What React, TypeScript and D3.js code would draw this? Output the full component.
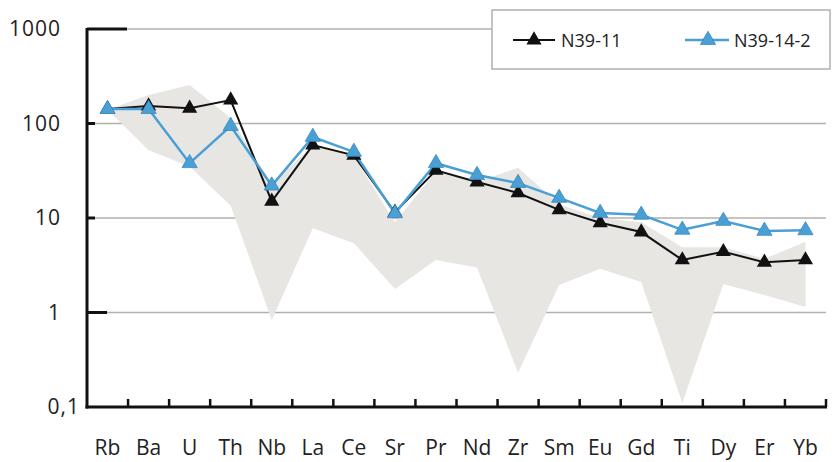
import React from "react";
import * as d3 from "d3";

const categories = ["Rb","Ba","U","Th","Nb","La","Ce","Sr","Pr","Nd","Zr","Sm","Eu","Gd","Ti","Dy","Er","Yb"];
const seriesN39_11 = [142,153,145,177,15,59,46,11.5,32,24,18.4,12.2,8.9,7.1,3.6,4.4,3.4,3.6];
const seriesN39_14_2 = [142,142,38,94,22,72,50,11.2,38,28.5,23.4,16.3,11.3,10.8,7.5,9.3,7.3,7.4];
const rangeUpper = [140,200,255,114,23,58,45,9,31,24,34,14,10,9,4.9,4.9,3.7,5.6];
const rangeLower = [140,52,35,13.5,0.83,7.8,5.4,1.77,3.6,3.0,0.23,1.95,2.9,2.1,0.11,2.0,1.53,1.14];
const yTicks = [1000,100,10,1,0.1];
const yTickLabels = ["1000","100","10","1","0,1"];
const seriesNames = ["N39-11","N39-14-2"];

const W = 834, H = 462;
const X0 = 87, X1 = 826, Y0 = 407, Y1 = 29;

export default function App() {
  const x = d3.scaleBand<string>().domain(categories).range([X0, X1]).padding(0);
  const cx = (c: string) => (x(c) as number) + x.bandwidth() / 2;
  const y = d3.scaleLog().domain([0.1, 1000]).range([Y0, Y1]);

  const area = d3.area<number>()
    .x((_, i) => cx(categories[i]))
    .y0((_, i) => y(rangeLower[i]))
    .y1((d) => y(d));

  const line = d3.line<number>()
    .x((_, i) => cx(categories[i]))
    .y((d) => y(d));

  const tri = d3.symbol().type(d3.symbolTriangle).size(100)() as string;

  const blue = "#4a9fd4";
  const blueStroke = "#3889bf";
  const black = "#111";
  const font = "'Open Sans', sans-serif";
  const tickLen: Record<string, number> = { "1000": 40, "100": 8, "10": 8, "1": 20 };

  return (
    <svg width={W} height={H} style={{ position: "absolute", left: 0, top: 0, background: "#fff" }}>
      {yTicks.filter((t) => t > 0.1).map((t) => (
        <line key={t} x1={X0} x2={X1} y1={y(t)} y2={y(t)} stroke="#b3b1ae" strokeWidth={1.5} />
      ))}
      <path d={area(rangeUpper) as string} fill="#e8e6e3" />
      <path d={line(seriesN39_11) as string} fill="none" stroke={black} strokeWidth={2} />
      <path d={line(seriesN39_14_2) as string} fill="none" stroke={blue} strokeWidth={2.5} />
      {seriesN39_11.map((v, i) => (
        <path key={"a" + i} d={tri} transform={`translate(${cx(categories[i])},${y(v)})`} fill={black} />
      ))}
      {seriesN39_14_2.map((v, i) => (
        <path key={"b" + i} d={tri} transform={`translate(${cx(categories[i])},${y(v)})`} fill={blue} stroke={blueStroke} strokeWidth={0.8} />
      ))}
      <line x1={X0} x2={X0} y1={Y1 - 1} y2={Y0 + 1.5} stroke="#111" strokeWidth={3} />
      <line x1={X0 - 1.5} x2={X1 + 1} y1={Y0} y2={Y0} stroke="#111" strokeWidth={3} />
      {yTicks.filter((t) => t > 0.1).map((t) => (
        <line key={"yt" + t} x1={X0} x2={X0 + tickLen[String(t)]} y1={y(t)} y2={y(t)} stroke="#111" strokeWidth={3} />
      ))}
      {categories.map((c) => (
        <line key={"xt" + c} x1={(x(c) as number) + x.bandwidth()} x2={(x(c) as number) + x.bandwidth()} y1={Y0} y2={Y0 - 8} stroke="#111" strokeWidth={2.5} />
      ))}
      {yTicks.map((t, i) => (
        <text key={"yl" + t} x={t === 0.1 ? 80 : 61} y={y(t) + 7} textAnchor="end" fontFamily={font} fontSize={21} letterSpacing={1} fill="#222">
          {yTickLabels[i]}
        </text>
      ))}
      {categories.map((c) => (
        <text key={"xl" + c} x={cx(c)} y={455} textAnchor="middle" fontFamily={font} fontSize={21} fill="#222">
          {c}
        </text>
      ))}
      <rect x={492} y={10} width={338} height={59} fill="#fff" stroke="#b0b0b0" strokeWidth={1.5} />
      <line x1={513} x2={555} y1={40} y2={40} stroke={black} strokeWidth={2} />
      <path d={tri} transform="translate(534,40)" fill={black} />
      <text x={561} y={47} fontFamily={font} fontSize={18} fill="#222">{seriesNames[0]}</text>
      <line x1={685} x2={729} y1={40} y2={40} stroke={blue} strokeWidth={2.5} />
      <path d={tri} transform="translate(708,40)" fill={blue} stroke={blueStroke} strokeWidth={0.8} />
      <text x={734} y={47} fontFamily={font} fontSize={18} fill="#222">{seriesNames[1]}</text>
    </svg>
  );
}
